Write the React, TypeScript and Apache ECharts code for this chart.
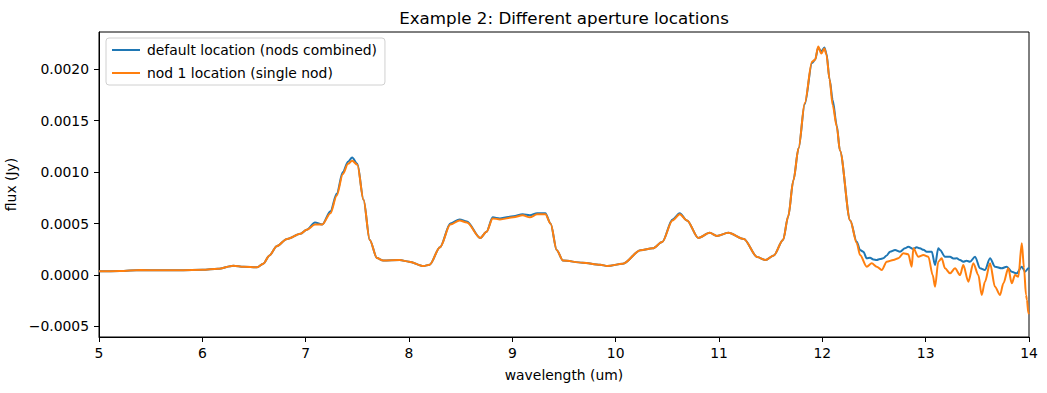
import React, { useEffect, useRef } from "react";
import * as echarts from "echarts";

// Smooth part of the spectrum (both apertures nearly identical)
const waveSmooth = [
  5.0, 5.2, 5.4, 5.6, 5.8, 6.0, 6.15, 6.3, 6.4, 6.53, 6.59, 6.65, 6.72, 6.82, 6.95, 7.01, 7.09, 7.16, 7.24, 7.3,
  7.36, 7.41, 7.45, 7.5, 7.56, 7.62, 7.69, 7.75, 7.91, 8.0, 8.14, 8.2, 8.3, 8.4, 8.49, 8.56, 8.69, 8.75, 8.81, 8.88,
  9.01, 9.1, 9.17, 9.24, 9.32, 9.37, 9.43, 9.49, 9.68, 9.85, 9.92, 10.07, 10.24, 10.36, 10.45, 10.55, 10.62, 10.69, 10.8, 10.91,
  10.98, 11.09, 11.24, 11.37, 11.45, 11.53, 11.62, 11.67, 11.72, 11.77, 11.83, 11.9, 11.93, 11.96, 11.99, 12.02, 12.04, 12.07, 12.1, 12.14,
  12.17, 12.27,
];
const fluxDefaultSmooth = [
  0.000036, 0.000038, 0.000048, 0.000046, 0.000047, 0.00005, 0.00006, 0.00009, 0.00008, 0.000075, 0.00011, 0.00019, 0.00028, 0.00035, 0.0004, 0.00044, 0.00051, 0.00049, 0.00062, 0.00079,
  0.001, 0.0011, 0.00114, 0.00108, 0.00073, 0.00034, 0.000165, 0.00014, 0.000145, 0.00013, 0.000087, 0.0001, 0.00027, 0.0005, 0.00054, 0.00052, 0.00036, 0.00042, 0.00056, 0.00055,
  0.00057, 0.00059, 0.00058, 0.0006, 0.0006, 0.0005, 0.00024, 0.00014, 0.00012, 0.0001, 0.000087, 0.00011, 0.00024, 0.00026, 0.00032, 0.00054, 0.0006, 0.00053, 0.00036, 0.00041,
  0.00038, 0.00041, 0.00035, 0.000175, 0.000145, 0.00019, 0.00034, 0.00057, 0.00092, 0.00123, 0.00166, 0.00206, 0.00209, 0.00221, 0.00217, 0.00221, 0.00215, 0.0019, 0.0017, 0.00145,
  0.00121, 0.00053,
];
const fluxNodSmooth = [
  0.000036, 0.000038, 0.000048, 0.000046, 0.000047, 0.00005, 0.00006, 0.00009, 0.00008, 0.000075, 0.00011, 0.00019, 0.00028, 0.00035, 0.0004, 0.00044, 0.00049, 0.00049, 0.0006, 0.00077,
  0.00098, 0.00108, 0.00111, 0.00107, 0.00073, 0.00034, 0.000165, 0.00014, 0.000145, 0.00013, 0.000087, 0.0001, 0.00027, 0.00049, 0.00053, 0.00051, 0.00036, 0.00042, 0.00055, 0.00054,
  0.00056, 0.00058, 0.00056, 0.00059, 0.00059, 0.0005, 0.00024, 0.00014, 0.00012, 0.0001, 0.000087, 0.00011, 0.00024, 0.00026, 0.00032, 0.00053, 0.00059, 0.00053, 0.00036, 0.00041,
  0.00038, 0.00041, 0.00035, 0.000175, 0.000145, 0.00019, 0.00034, 0.00057, 0.00092, 0.00123, 0.00167, 0.00207, 0.00209, 0.00222, 0.00215, 0.0022, 0.00214, 0.0019, 0.00165, 0.00144,
  0.00121, 0.00053,
];

// Noisy tail beyond ~12.3 um
const waveDefaultTail = [
  12.333, 12.365, 12.397, 12.43, 12.462, 12.494, 12.526, 12.558, 12.59, 12.623, 12.655, 12.704, 12.752, 12.8, 12.832, 12.881, 12.913, 12.945, 12.978, 13.01,
  13.059, 13.091, 13.122, 13.139, 13.187, 13.236, 13.268, 13.301, 13.333, 13.364, 13.396, 13.429, 13.478, 13.526, 13.574, 13.623, 13.671, 13.736, 13.784, 13.833,
  13.881, 13.93, 13.962, 13.994, 14.0,
];
const fluxDefaultTail = [
  0.000323, 0.000243, 0.000226, 0.000162, 0.000168, 0.00015, 0.000146, 0.000155, 0.000162, 0.00019, 0.000226, 0.000243, 0.000226, 0.000259, 0.000275, 0.000252, 0.00027, 0.000259, 0.000245, 0.000226,
  0.000226, 0.000097, 0.000259, 0.000243, 0.000178, 0.000178, 0.00016, 0.000162, 0.000145, 0.000129, 0.000138, 0.000129, 0.000178, 0.000065, 0.000049, 0.000162, 0.000081, 0.000065, 0.000081, 0.000032,
  0.000016, 0.000081, 0.000032, 0.000065, 0.00006,
];
const waveNodTail = [
  12.333, 12.365, 12.43, 12.478, 12.526, 12.575, 12.623, 12.687, 12.736, 12.784, 12.832, 12.865, 12.881, 12.929, 12.978, 13.026, 13.068, 13.091, 13.122, 13.155,
  13.187, 13.236, 13.284, 13.333, 13.364, 13.413, 13.461, 13.51, 13.542, 13.574, 13.623, 13.671, 13.72, 13.752, 13.8, 13.833, 13.865, 13.897, 13.93, 13.952,
  13.971, 13.98, 13.994, 14.0,
];
const fluxNodTail = [
  0.00031, 0.000194, 0.000081, 0.000114, 0.000081, 0.000049, 0.000129, 0.000146, 0.000162, 0.000211, 0.000201, 0.000081, 0.000259, 0.000178, 0.000194, 0.000178, 0.0, -0.000114, 0.000129, 0.000162,
  0.000065, 0.000016, 0.000065, 0.0, 0.000097, -0.000065, 0.000114, 0.0, -0.000194, -0.000065, 0.000114, -0.000114, -0.000194, -0.000081, 0.000065, -0.000081, 0.0, -0.000016, 0.000308, 0.000065,
  -0.000194, -0.00024, -0.000372, -0.00038,
];

const yTicks = [-0.0005, 0, 0.0005, 0.001, 0.0015, 0.002];
const seriesNames = ["default location (nods combined)", "nod 1 location (single nod)"];
const titleText = "Example 2: Different aperture locations";

const FONT = "DejaVu Sans";

export default function App() {
  const ref = useRef<HTMLDivElement>(null);
  useEffect(() => {
    if (!ref.current) return;
    const chart = echarts.init(ref.current, undefined, { renderer: "svg" });
    const toPairs = (w: number[], f: number[]) => w.map((x, i) => [x, f[i]]);
    const defaultData = toPairs(waveSmooth, fluxDefaultSmooth).concat(toPairs(waveDefaultTail, fluxDefaultTail));
    const nodData = toPairs(waveSmooth, fluxNodSmooth).concat(toPairs(waveNodTail, fluxNodTail));
    const fmt = (v: number) => {
      const s = Math.abs(v).toFixed(4);
      return v < -1e-12 ? "\u2212" + s : s;
    };
    chart.setOption({
      animation: false,
      backgroundColor: "#fff",
      textStyle: { fontFamily: FONT },
      grid: {
        left: 99,
        right: 18,
        top: 32,
        bottom: 56,
        show: true,
        borderColor: "#000",
        borderWidth: 1,
        containLabel: false,
        outerBoundsMode: "none",
      },
      graphic: [
        {
          type: "text",
          x: 564,
          y: 18,
          style: {
            text: titleText,
            font: `16.7px ${FONT}`,
            fill: "#000",
            align: "center",
            verticalAlign: "middle",
          },
        },
      ],
      legend: {
        left: 106,
        top: 38,
        orient: "vertical",
        data: seriesNames,
        icon: "rect",
        itemWidth: 28,
        itemHeight: 2,
        itemGap: 7,
        padding: [4, 8, 4, 6],
        borderColor: "#d0d0d0",
        borderWidth: 1,
        borderRadius: 3,
        backgroundColor: "rgba(255,255,255,0.8)",
        textStyle: { fontFamily: FONT, fontSize: 13.9, color: "#000", lineHeight: 16, padding: [0, 0, 0, 2] },
      },
      xAxis: {
        type: "value",
        min: 5,
        max: 14,
        interval: 1,
        name: "wavelength (um)",
        nameLocation: "middle",
        nameGap: 31,
        nameTextStyle: { fontFamily: FONT, fontSize: 13.9, color: "#000" },
        splitLine: { show: false },
        axisLine: { show: true, onZero: false, lineStyle: { color: "#000", width: 1 } },
        axisTick: { show: true, length: 5, lineStyle: { color: "#000" } },
        axisLabel: { fontFamily: FONT, fontSize: 13.9, color: "#000", margin: 9 },
      },
      yAxis: {
        type: "value",
        min: -0.000602,
        max: 0.00236,
        name: "flux (Jy)",
        nameLocation: "middle",
        nameGap: 77,
        nameRotate: 90,
        nameTextStyle: { fontFamily: FONT, fontSize: 13.9, color: "#000" },
        splitLine: { show: false },
        axisLine: { show: true, onZero: false, lineStyle: { color: "#000", width: 1 } },
        axisTick: { show: true, length: 5, lineStyle: { color: "#000" }, customValues: yTicks },
        axisLabel: { fontFamily: FONT, fontSize: 13.9, color: "#000", margin: 10, customValues: yTicks, formatter: fmt },
      },
      series: [
        {
          name: seriesNames[0],
          type: "line",
          data: defaultData,
          showSymbol: false,
          symbol: "none",
          smooth: 0.3,
          smoothMonotone: "x",
          lineStyle: { color: "#1f77b4", width: 2 },
          itemStyle: { color: "#1f77b4" },
          clip: true,
        },
        {
          name: seriesNames[1],
          type: "line",
          data: nodData,
          showSymbol: false,
          symbol: "none",
          smooth: 0.3,
          smoothMonotone: "x",
          lineStyle: { color: "#ff7f0e", width: 2 },
          itemStyle: { color: "#ff7f0e" },
          clip: true,
        },
      ],
    });
    return () => chart.dispose();
  }, []);
  return (
    <div
      ref={ref}
      style={{ position: "fixed", left: 0, top: 0, width: 1047, height: 393, background: "#fff" }}
    />
  );
}
